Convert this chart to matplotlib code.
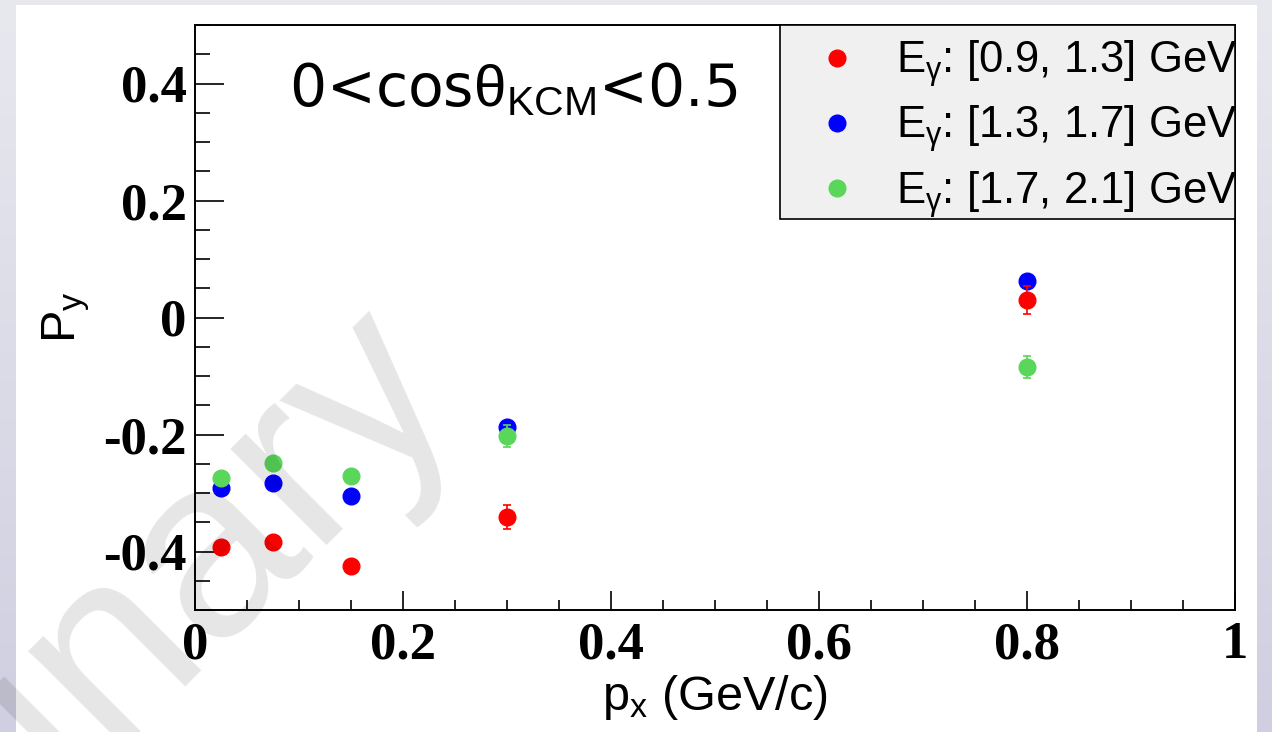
import numpy as np
import matplotlib.pyplot as plt
from matplotlib.patches import Rectangle
from matplotlib.lines import Line2D
from matplotlib.colors import LinearSegmentedColormap
from matplotlib.ticker import MultipleLocator, FuncFormatter

plt.rcParams['axes.unicode_minus'] = False
plt.rcParams['mathtext.fontset'] = 'custom'
plt.rcParams['mathtext.rm'] = 'Liberation Sans'
plt.rcParams['mathtext.it'] = 'Liberation Sans:italic'

# p_x bins (GeV/c)
px = [0.025, 0.075, 0.15, 0.3, 0.8]

# P_y for each photon energy bin
py_09_13 = [-0.393, -0.383, -0.424, -0.341, 0.030]
err_09_13 = [0.008, 0.008, 0.008, 0.020, 0.024]
py_13_17 = [-0.291, -0.283, -0.305, -0.187, 0.063]
err_13_17 = [0.006, 0.006, 0.006, 0.010, 0.010]
py_17_21 = [-0.275, -0.249, -0.271, -0.202, -0.085]
err_17_21 = [0.006, 0.006, 0.006, 0.019, 0.019]

lbl = [r'E$_{\mathrm{γ}}$: [0.9, 1.3] GeV',
       r'E$_{\mathrm{γ}}$: [1.3, 1.7] GeV',
       r'E$_{\mathrm{γ}}$: [1.7, 2.1] GeV']
cols = ['#ff0000', '#0000ff', '#5ad65a']

W, H = 1272, 732
fig = plt.figure(figsize=(W/100, H/100), dpi=100, facecolor='#e2e2ec')

# фон слайда: лёгкий сиреневый градиент сверху вниз
bg = fig.add_axes([0, 0, 1, 1], zorder=-10)
cm = LinearSegmentedColormap.from_list('slide', ['#e8e8ef', '#cfcfe1'])
bg.imshow(np.linspace(0, 1, 256).reshape(-1, 1), cmap=cm, aspect='auto', extent=[0, 1, 0, 1])
bg.axis('off')

# белая подложка слайда
fig.add_artist(Rectangle((16/W, 0), (1257-16)/W, 1 - 5/H, transform=fig.transFigure,
                         facecolor='white', edgecolor='none', zorder=-1))

ax = fig.add_axes([195/W, 1 - 610/H, (1235-195)/W, (610-25)/H])

ms = 12
kw = dict(fmt='o', ms=ms, capsize=3, elinewidth=1.2, capthick=1.2)
ax.errorbar(px, py_13_17, yerr=err_13_17, color=cols[1], zorder=3, **kw)
ax.errorbar(px, py_09_13, yerr=err_09_13, color=cols[0], zorder=4, **kw)
ax.errorbar(px, py_17_21, yerr=err_17_21, color=cols[2], zorder=5, **kw)

ax.set_xlim(0, 1)
ax.set_ylim(-0.5, 0.5)

ax.xaxis.set_major_locator(MultipleLocator(0.2))
ax.xaxis.set_minor_locator(MultipleLocator(0.05))
ax.yaxis.set_major_locator(MultipleLocator(0.2))
ax.yaxis.set_minor_locator(MultipleLocator(0.05))
fmt = FuncFormatter(lambda v, p: '%g' % round(v, 3))
ax.xaxis.set_major_formatter(fmt)
ax.yaxis.set_major_formatter(fmt)

ax.tick_params(axis='both', which='both', direction='in', top=False, right=False, width=1.2)
ax.tick_params(axis='y', which='major', length=21, pad=6)
ax.tick_params(axis='y', which='minor', length=11)
ax.tick_params(axis='x', which='major', length=14, pad=8)
ax.tick_params(axis='x', which='minor', length=7)
for t in ax.get_xticklabels() + ax.get_yticklabels():
    t.set_fontfamily('Liberation Serif')
    t.set_fontweight('bold')
    t.set_fontsize(38)
for s in ax.spines.values():
    s.set_linewidth(1.4)

ax.set_xlabel(r'p$_{\mathrm{x}}$ (GeV/c)', fontsize=35, family='Liberation Sans', labelpad=3)
ax.set_ylabel(r'P$_{\mathrm{y}}$', fontsize=35, family='Liberation Sans', labelpad=8)

ax.text(0.09, 0.89, r'0<cos$\mathrm{θ}_{\mathrm{KCM}}$<0.5', transform=ax.transAxes,
        fontsize=42, family='DejaVu Sans', va='center', ha='left')

# рамка легенды рисуется отдельно, текст в оригинале упирается в рамку
x0 = (780 - 195) / 1040
y0 = (610 - 219) / 585
ax.add_patch(Rectangle((x0, y0), 1 - x0, 1 - y0, transform=ax.transAxes,
                       facecolor='#f0f0f0', edgecolor='black', lw=1.2, zorder=6, clip_on=False))
hnd = [Line2D([], [], marker='o', ls='none', color=c, ms=ms) for c in cols]
leg = ax.legend(hnd, lbl, loc='upper left', bbox_to_anchor=(x0, 1), borderaxespad=0,
                prop={'family': 'Liberation Sans', 'size': 31.4}, frameon=False,
                handlelength=2.02, handletextpad=0.33, borderpad=0.3, labelspacing=0.33)
leg.set_zorder(7)

# водяной знак
fig.text(461/W, 1 - 390/H, 'Preliminary', rotation=45, rotation_mode='anchor',
         ha='right', va='baseline', fontsize=185, family='Liberation Sans',
         color='black', alpha=0.1, zorder=10)

fig.savefig('out.png', dpi=100, facecolor=fig.get_facecolor())
